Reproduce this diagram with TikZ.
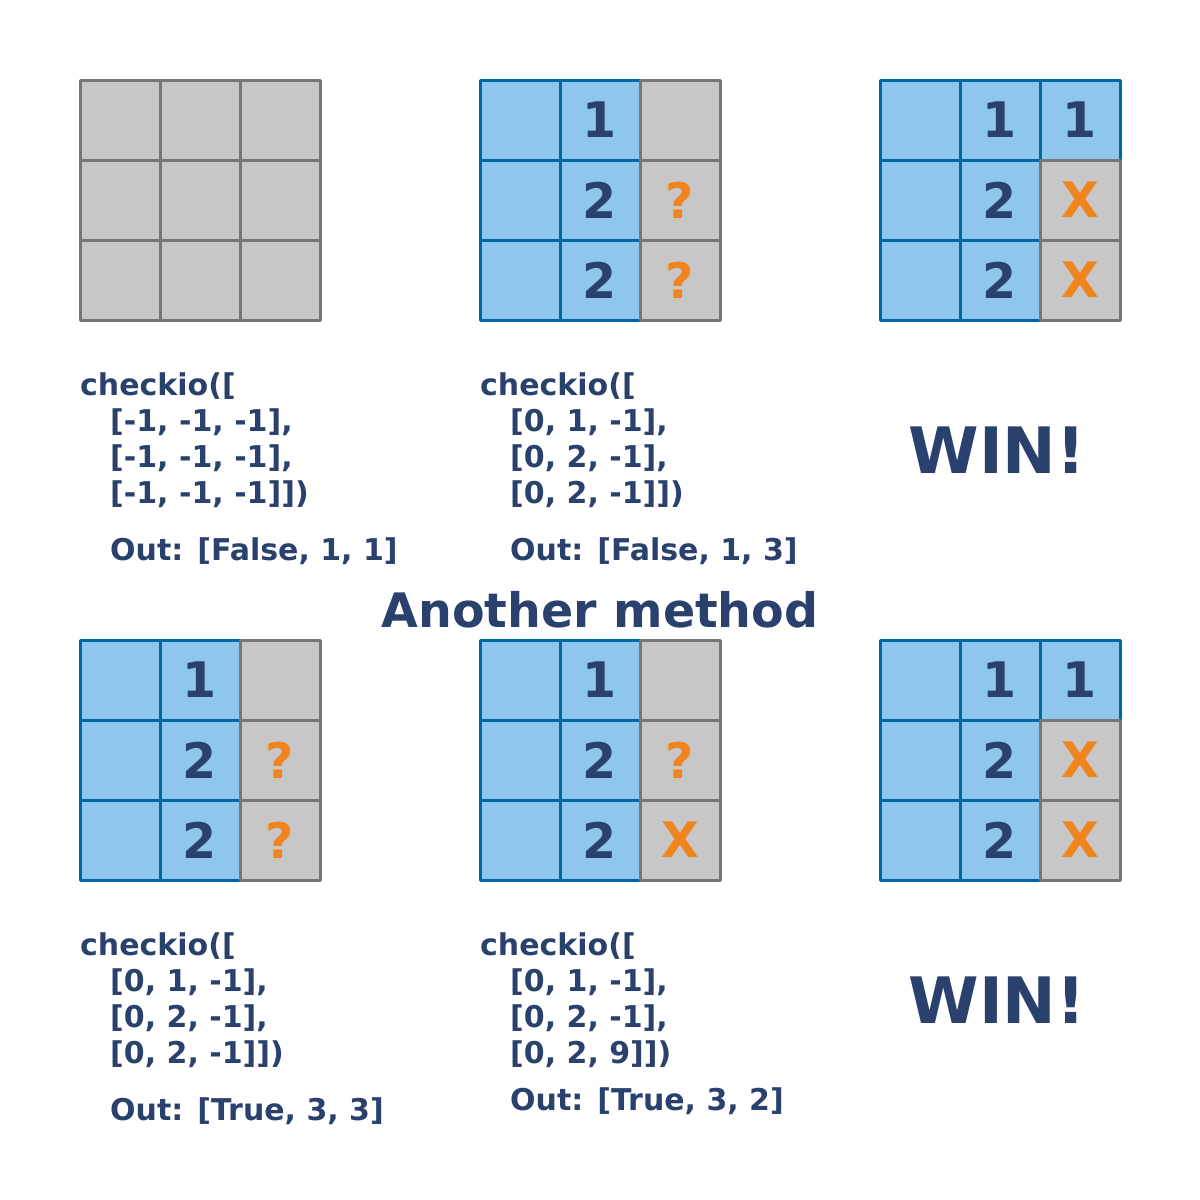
\documentclass[tikz,border=0pt]{standalone}
\usepackage{fontspec}
\setmainfont{DejaVu Sans}
\definecolor{navy}{HTML}{2A416E}
\definecolor{cblue}{HTML}{8EC6EC}
\definecolor{cblueline}{HTML}{0067A6}
\definecolor{cgray}{HTML}{C6C7C6}
\definecolor{cgrayline}{HTML}{777777}
\definecolor{corange}{HTML}{F0841F}
\begin{document}
\begin{tikzpicture}[x=1pt,y=-1pt,
  cellbase/.style={rectangle,line width=3pt,minimum size=80pt,inner sep=0pt,outer sep=0pt,line join=round},
  bcell/.style={cellbase,draw=cblueline,fill=cblue},
  gcell/.style={cellbase,draw=cgrayline,fill=cgray},
  num/.style={text=navy,font=\bfseries\fontsize{49}{49}\selectfont},
  onum/.style={text=corange,font=\bfseries\fontsize{49}{49}\selectfont},
  code/.style={anchor=base west,text=navy,font=\bfseries\fontsize{30}{30}\selectfont,inner sep=0pt},
  win/.style={text=navy,font=\bfseries\fontsize{64}{64}\selectfont,inner sep=0pt},
]
\path[use as bounding box,fill=white] (0,0) rectangle (1200,1200);

% grid a: all gray
\foreach \c in {1,2,3}{
  \foreach \r in {1,2,3}{
    \node[gcell] (a\c\r) at (80*\c+40,80*\r+40) {};
  }
}

% blue columns 1-2 of grids b-f
\foreach \g/\x/\y in {b/480/80, c/880/80, d/80/640, e/480/640, f/880/640}{
  \node[bcell] (\g11) at (\x+40,\y+40) {};
  \node[bcell] (\g12) at (\x+40,\y+120) {};
  \node[bcell] (\g13) at (\x+40,\y+200) {};
  \node[bcell,num] (\g21) at (\x+120,\y+40) {1};
  \node[bcell,num] (\g22) at (\x+120,\y+120) {2};
  \node[bcell,num] (\g23) at (\x+120,\y+200) {2};
}
% blue top-right cells of grids c and f
\node[bcell,num] (c31) at (1080,120) {1};
\node[bcell,num] (f31) at (1080,680) {1};

% gray third columns
\node[gcell] (b31) at (680,120) {};
\node[gcell,onum] (b32) at (680,200) {?};
\node[gcell,onum] (b33) at (680,280) {?};

\node[gcell,onum] (c32) at (1080,200) {X};
\node[gcell,onum] (c33) at (1080,280) {X};

\node[gcell] (d31) at (280,680) {};
\node[gcell,onum] (d32) at (280,760) {?};
\node[gcell,onum] (d33) at (280,840) {?};

\node[gcell] (e31) at (680,680) {};
\node[gcell,onum] (e32) at (680,760) {?};
\node[gcell,onum] (e33) at (680,840) {X};

\node[gcell,onum] (f32) at (1080,760) {X};
\node[gcell,onum] (f33) at (1080,840) {X};

% code texts top
\node[code] (ta1) at (80,395) {checkio([};
\node[code] (ta2) at (110,431) {[-1, -1, -1],};
\node[code] (ta3) at (110,467) {[-1, -1, -1],};
\node[code] (ta4) at (110,503) {[-1, -1, -1]])};
\node[code] (ta5) at (110,560) {Out: [False, 1, 1]};

\node[code] (tb1) at (480,395) {checkio([};
\node[code] (tb2) at (510,431) {[0, 1, -1],};
\node[code] (tb3) at (510,467) {[0, 2, -1],};
\node[code] (tb4) at (510,503) {[0, 2, -1]])};
\node[code] (tb5) at (510,560) {Out: [False, 1, 3]};

\node[win] (wtop) at (997,450) {WIN!};

\node[win,font=\bfseries\fontsize{47.5}{47.5}\selectfont] (title) at (600,610) {Another method};

% code texts bottom
\node[code] (td1) at (80,955) {checkio([};
\node[code] (td2) at (110,991) {[0, 1, -1],};
\node[code] (td3) at (110,1027) {[0, 2, -1],};
\node[code] (td4) at (110,1063) {[0, 2, -1]])};
\node[code] (td5) at (110,1120) {Out: [True, 3, 3]};

\node[code] (te1) at (480,955) {checkio([};
\node[code] (te2) at (510,991) {[0, 1, -1],};
\node[code] (te3) at (510,1027) {[0, 2, -1],};
\node[code] (te4) at (510,1063) {[0, 2, 9]])};
\node[code] (te5) at (510,1110) {Out: [True, 3, 2]};

\node[win] (wbot) at (997,1000) {WIN!};
\end{tikzpicture}
\end{document}
